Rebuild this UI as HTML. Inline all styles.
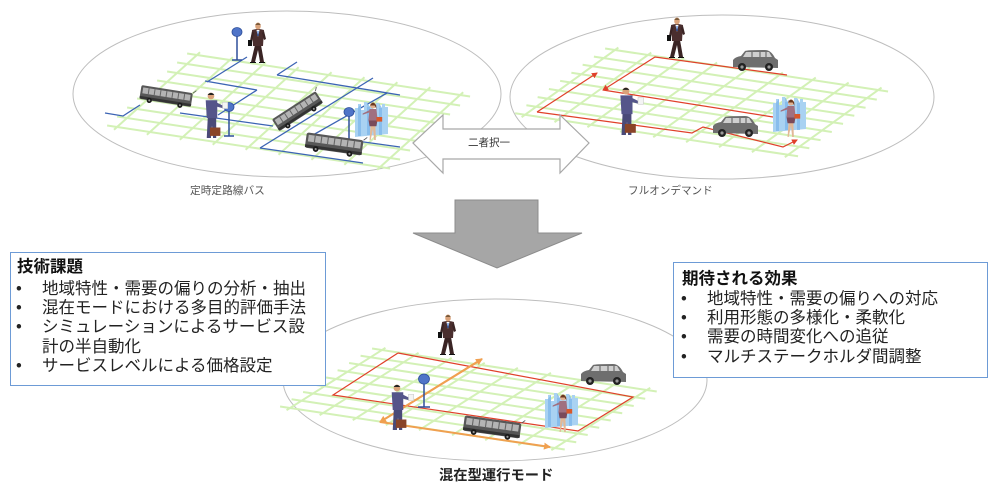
<!DOCTYPE html>
<html>
<head>
<meta charset="utf-8">
<style>
  html,body{margin:0;padding:0;background:#fff;}
  body{width:1000px;height:491px;position:relative;overflow:hidden;
       font-family:"Liberation Sans","Noto Sans CJK JP",sans-serif;}
  svg{position:absolute;left:0;top:0;}
  .box{position:absolute;background:#fff;border:1px solid #6d9bd6;box-sizing:border-box;}
  .ln{position:absolute;height:20px;line-height:20px;font-size:16.5px;color:#222;white-space:nowrap;
      font-family:"Liberation Sans","Noto Sans CJK JP",sans-serif;}
  .tt{font-weight:bold;color:#111;}
  .lbl{position:absolute;white-space:nowrap;font-family:"Liberation Sans","Noto Sans CJK JP",sans-serif;}
</style>
</head>
<body>
<svg width="1000" height="491" viewBox="0 0 1000 491" xmlns="http://www.w3.org/2000/svg">
  <defs>
    <g id="walker">
      <path d="M-3,-18 L-7,-1 L-3,-1 L0,-13 L2,-1 L6,-1 L3,-18 Z" fill="#3a2424"/>
      <path d="M-6,-33 Q0,-35 6,-33 L5,-17 L-5,-17 Z" fill="#4a2e2e"/>
      <path d="M-1.5,-33 L1.5,-33 L0,-26 Z" fill="#fff"/>
      <line x1="0" y1="-32" x2="0" y2="-27" stroke="#2a6ad0" stroke-width="1"/>
      <path d="M-6,-32 L-8,-22 L-6,-21 L-4,-30Z" fill="#3a2424"/>
      <rect x="-10" y="-23" width="4" height="6" fill="#111"/>
      <path d="M6,-32 L8,-24 L6,-23 L4,-30Z" fill="#3a2424"/>
      <ellipse cx="0" cy="-37" rx="2.8" ry="3.5" fill="#d9a27a"/>
      <path d="M-2.8,-38 Q0,-42 2.8,-38 Z" fill="#7a5a3a"/>
      <path d="M-8,-1 L-2,-1 L-2,0 L-8,0Z M1,-1 L7,-1 L7,0 L1,0Z" fill="#111"/>
    </g>
    <g id="reader">
      <path d="M-4,-20 L-5,0 L-1,0 L0,-12 L1,0 L4,0 L4,-20Z" fill="#4a4a78"/>
      <path d="M-6,-36 L5,-36 L5,-19 L-5,-19Z" fill="#55558a"/>
      <path d="M4,-34 L12,-30 L12,-28 L4,-30Z" fill="#55558a"/>
      <rect x="10" y="-34" width="5" height="6" fill="#f4f4f4" stroke="#bbb" stroke-width=".4"/>
      <circle cx="-1" cy="-40" r="3.2" fill="#d9a27a"/>
      <path d="M-4.2,-41 Q-1,-45 2.2,-41Z" fill="#222"/>
      <rect x="-2" y="-10" width="10" height="8" fill="#8a4428"/>
    </g>
    <g id="woman">
      <path d="M-2,-14 L-3,0 L-2,0 L0,-10 L1,0 L2.5,0 L2,-14Z" fill="#e2b896"/>
      <path d="M-4,-18 L4,-18 L3,-12 L-3,-12Z" fill="#7a4a5a"/>
      <path d="M-3,-27 L3,-27 L4,-17 L-4,-17Z" fill="#a07080"/>
      <rect x="3" y="-20" width="5" height="4" fill="#d8582a"/>
      <path d="M-3,-26 L-9,-23 L-9,-22 L-3,-24Z" fill="#a07080"/>
      <circle cx="0" cy="-30" r="2.6" fill="#e0b090"/>
      <path d="M-2.6,-30 Q0,-35 2.8,-30 L3,-27 L1.5,-30Z" fill="#6a3a20"/>
    </g>
    <g id="bus">
      <rect x="-26" y="-8" width="52" height="14" rx="2" fill="#575757"/>
      <rect x="-24" y="-6" width="48" height="6" fill="#b4b4b4"/>
      <path d="M-18,-6V0M-12,-6V0M-6,-6V0M0,-6V0M6,-6V0M12,-6V0M18,-6V0" stroke="#666" stroke-width="1"/>
      <rect x="-26" y="3" width="52" height="2.5" fill="#333"/>
      <circle cx="-16" cy="6" r="2.6" fill="#1a1a1a"/><circle cx="-16" cy="6" r="1" fill="#999"/>
      <circle cx="15" cy="6" r="2.6" fill="#1a1a1a"/><circle cx="15" cy="6" r="1" fill="#999"/>
      <path d="M26,-8 L29,-11" stroke="#555" stroke-width="0.8"/>
    </g>
    <g id="car">
      <path d="M-22,5 L-22,-2 Q-20,-5 -14,-6 L-10,-11 Q-8,-12 10,-12 Q16,-12 20,-4 L23,-2 L23,6 Z" fill="#6e6e6e"/>
      <path d="M-9,-10 L-12,-5 L17,-5 L14,-10Z" fill="#cfcfcf"/>
      <path d="M-3,-10V-5M5,-10V-5M11,-10V-5" stroke="#6e6e6e" stroke-width="1.2"/>
      <circle cx="-13" cy="5" r="4" fill="#222"/><circle cx="-13" cy="5" r="1.6" fill="#999"/>
      <circle cx="14" cy="5" r="4" fill="#222"/><circle cx="14" cy="5" r="1.6" fill="#999"/>
    </g>
    <g id="panel">
      <path d="M0,6 L3,6 L3,2 L6,2 L6,8 L9,8 L9,0 L12,0 L12,5 L15,5 L15,3 L18,3 L18,7 L21,7 L21,1 L24,1 L24,6 L27,6 L27,2 L30,2 L30,5 L33,5 L33,32 L0,35 Z" fill="#a9d2f2"/>
      <path d="M3,6 L3,34 L6,34 L6,2Z M12,0 L12,33 L15,33 L15,5Z M24,1 L24,33 L27,33 L27,6Z" fill="#7fb8ea" opacity="0.8"/>
    </g>
    <marker id="ar" markerWidth="6" markerHeight="6" refX="5" refY="3" orient="auto" markerUnits="userSpaceOnUse">
      <path d="M0,0 L6,3 L0,6Z" fill="#e0402a"/>
    </marker>
    <marker id="ao" markerWidth="7" markerHeight="7" refX="6" refY="3.5" orient="auto" markerUnits="userSpaceOnUse">
      <path d="M0,0 L7,3.5 L0,7Z" fill="#f0a050"/>
    </marker>
    <g id="gridlines">
      <path d="M-0.3,0H8.3M-0.3,1H8.3M-0.3,2H8.3M-0.3,3H8.3M-0.3,4H8.3M-0.3,5H8.3M-0.3,6H8.3M-0.3,7H8.3M-0.3,8H8.3
               M0,-0.3V8.3M1,-0.3V8.3M2,-0.3V8.3M3,-0.3V8.3M4,-0.3V8.3M5,-0.3V8.3M6,-0.3V8.3M7,-0.3V8.3M8,-0.3V8.3"
            fill="none" stroke="#d3f1b6" stroke-width="2" vector-effect="non-scaling-stroke"/>
    </g>
  </defs>

  <ellipse cx="287" cy="94" rx="214" ry="83" fill="none" stroke="#bdbdbd" stroke-width="1"/>
  <ellipse cx="722" cy="97" rx="212" ry="82" fill="none" stroke="#bdbdbd" stroke-width="1"/>
  <ellipse cx="495" cy="380" rx="212" ry="81" fill="none" stroke="#bdbdbd" stroke-width="1"/>

  <!-- LEFT SCENE -->
  <g transform="matrix(32.9,5,-10,9,197,55)"><use href="#gridlines"/></g>
  <g stroke="#3c64b4" stroke-width="1.3" fill="none">
    <path d="M207,82 L247,57"/>
    <path d="M205,81 L257,90"/>
    <path d="M257,90 L218,115"/>
    <path d="M277,75 L297,62"/>
    <path d="M277,75 L400,95"/>
    <path d="M373,78 L260,148"/>
    <path d="M105,113 L123,116 L140,105"/>
    <path d="M260,148 L363,163"/>
    <path d="M387,93 L313,135"/>
    <path d="M313,135 L400,147"/>
    <path d="M180,113 L273,126"/>
  </g>
  <g stroke="#2e4f9a" stroke-width="1.5">
    <line x1="237" y1="36" x2="237" y2="60"/><line x1="232" y1="60" x2="242" y2="60"/>
    <line x1="229" y1="111" x2="229" y2="136"/><line x1="224" y1="136" x2="234" y2="136"/>
    <line x1="349" y1="116" x2="349" y2="140"/>
  </g>
  <g fill="#4f74c8" stroke="#2e4f9a" stroke-width="0.8">
    <ellipse cx="237" cy="32" rx="5" ry="4.5"/>
    <ellipse cx="229" cy="107" rx="5" ry="4.5"/>
    <ellipse cx="349" cy="112" rx="5" ry="4.5"/>
  </g>
  <use href="#walker" transform="translate(258,63)"/>
  <use href="#bus" transform="translate(166,97) rotate(9)"/>
  <use href="#reader" transform="translate(212,138) scale(1.05)"/>
  <use href="#bus" transform="translate(298,112) rotate(-33)"/>
  <use href="#panel" transform="translate(355,102)"/>
  <use href="#woman" transform="translate(373,140) scale(1.15)"/>
  <use href="#bus" transform="translate(334,145) rotate(8) scale(1.1)"/>

  <!-- RIGHT SCENE -->
  <g transform="matrix(32.9,5,-11.25,8.1,615,50)"><use href="#gridlines"/></g>
  <g stroke="#e0402a" stroke-width="1.2" fill="none">
    <path d="M537,112 L597,73" marker-end="url(#ar)"/>
    <path d="M787,75 L655,57 L603,90" marker-end="url(#ar)"/>
    <path d="M773,117 L603,90"/>
    <path d="M537,112 L692,133 L703,127 L783,147 L797,140" marker-end="url(#ar)"/>
  </g>
  <use href="#walker" transform="translate(677,58)"/>
  <use href="#car" transform="translate(755,62)"/>
  <use href="#reader" transform="translate(627,135) scale(1.1)"/>
  <use href="#car" transform="translate(735,128)"/>
  <use href="#panel" transform="translate(773,97)"/>
  <use href="#woman" transform="translate(791,137) scale(1.15)"/>

  <!-- BOTTOM SCENE -->
  <g transform="matrix(33.1,5,-11.5,7.25,382,350)"><use href="#gridlines"/></g>
  <g stroke="#e0402a" stroke-width="1.2" fill="none">
    <path d="M398,353 L333,395 L578,431 L633,397 L398,353"/>
  </g>
  <g stroke="#f0a050" stroke-width="2" fill="none">
    <path d="M380,422 L482,359" marker-end="url(#ao)"/>
    <path d="M482,359 L380,422" marker-end="url(#ao)"/>
    <path d="M380,422 L550,447" marker-end="url(#ao)"/>
  </g>
  <g stroke="#2e4f9a" stroke-width="1.5">
    <line x1="424" y1="383" x2="424" y2="407"/><line x1="418" y1="407" x2="430" y2="407"/>
  </g>
  <ellipse cx="424" cy="379" rx="5.5" ry="5" fill="#4f74c8" stroke="#2e4f9a" stroke-width="0.8"/>
  <use href="#walker" transform="translate(448,355)"/>
  <use href="#reader" transform="translate(398,430) scale(1.05)"/>
  <use href="#bus" transform="translate(492,428) rotate(8) scale(1.1)"/>
  <use href="#car" transform="translate(603,376)"/>
  <use href="#panel" transform="translate(545,393)"/>
  <use href="#woman" transform="translate(563,432) scale(1.15)"/>

  <path d="M413,143 L443,115 L443,129 L560,129 L560,115 L589,143 L560,173 L560,159 L443,159 L443,173 Z"
        fill="#fff" stroke="#a8a8a8" stroke-width="1.2"/>
  <path d="M455,200 L538,200 L538,233 L582,233 L497,268 L413,233 L455,233 Z"
        fill="#a6a6a6" stroke="#8c8c8c" stroke-width="1"/>
</svg>

<div class="lbl" style="left:468px;top:135px;font-size:10.5px;color:#333;">二者択一</div>
<div class="lbl" style="left:190px;top:183px;font-size:10.7px;color:#555;">定時定路線バス</div>
<div class="lbl" style="left:628px;top:183px;font-size:10.6px;color:#555;">フルオンデマンド</div>
<div class="lbl" style="left:439px;top:464px;font-size:14.3px;font-weight:bold;color:#222;">混在型運行モード</div>

<div class="box" style="left:10px;top:252px;width:316px;height:134px;"></div>
<div class="ln tt" style="left:17px;top:257px;">技術課題</div>
<div class="ln" style="left:16px;top:279px;">•</div><div class="ln" style="left:42px;top:279px;">地域特性・需要の偏りの分析・抽出</div>
<div class="ln" style="left:16px;top:298px;">•</div><div class="ln" style="left:42px;top:298px;">混在モードにおける多目的評価手法</div>
<div class="ln" style="left:16px;top:317px;">•</div><div class="ln" style="left:42px;top:317px;">シミュレーションによるサービス設</div>
<div class="ln" style="left:42px;top:337px;">計の半自動化</div>
<div class="ln" style="left:16px;top:356px;">•</div><div class="ln" style="left:42px;top:356px;">サービスレベルによる価格設定</div>

<div class="box" style="left:673px;top:262px;width:315px;height:116px;"></div>
<div class="ln tt" style="left:682px;top:269px;">期待される効果</div>
<div class="ln" style="left:681px;top:289px;">•</div><div class="ln" style="left:707px;top:289px;">地域特性・需要の偏りへの対応</div>
<div class="ln" style="left:681px;top:308px;">•</div><div class="ln" style="left:707px;top:308px;">利用形態の多様化・柔軟化</div>
<div class="ln" style="left:681px;top:327px;">•</div><div class="ln" style="left:707px;top:327px;">需要の時間変化への追従</div>
<div class="ln" style="left:681px;top:347px;">•</div><div class="ln" style="left:707px;top:347px;">マルチステークホルダ間調整</div>
</body>
</html>
